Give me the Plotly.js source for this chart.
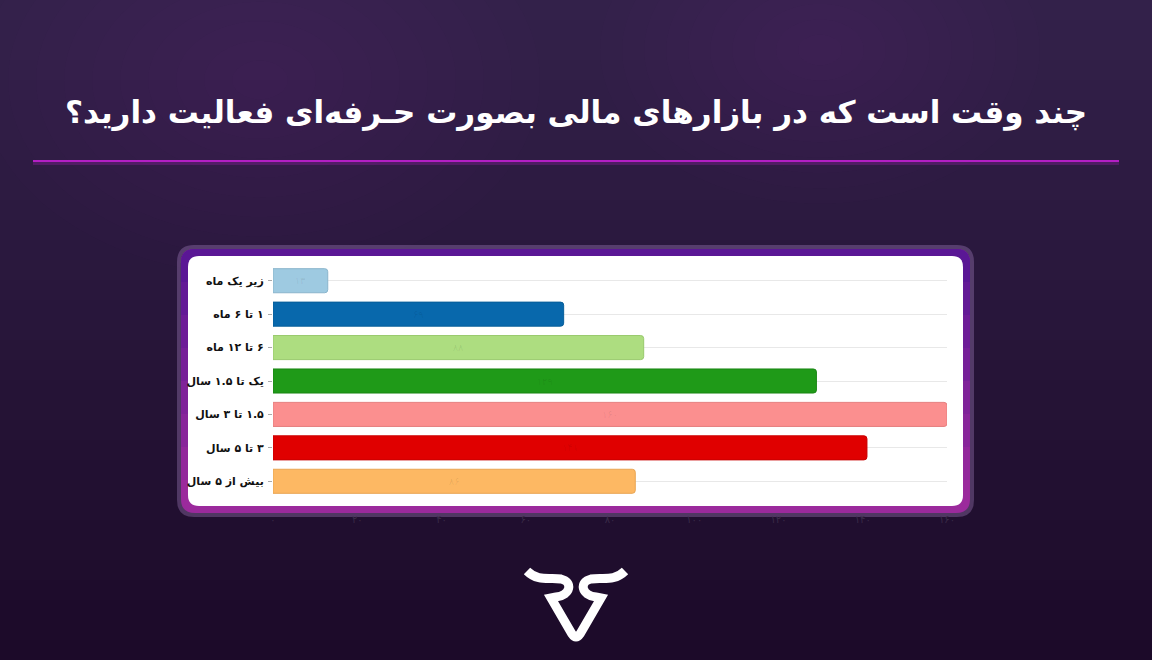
<!DOCTYPE html>
<html>
<head>
<meta charset="utf-8">
<script src="https://cdn.plot.ly/plotly-3.0.1.min.js"></script>
<style>
html,body{margin:0;padding:0;background:#22112f;}
#chart{width:1152px;height:660px;}
</style>
</head>
<body>
<div id="chart"></div>
<script>
// ---- data ----
const categories = ['زیر یک ماه', '۱ تا ۶ ماه', '۶ تا ۱۲ ماه', 'یک تا ۱.۵ سال', '۱.۵ تا ۳ سال', '۳ تا ۵ سال', 'بیش از ۵ سال'];
const values = [13, 69, 88, 129, 160, 141, 86];
const barColors = ['#9ecae1', '#0868ac', '#addd80', '#1f9a18', '#fb8f8f', '#e00000', '#fdb863'];
const barLines = ['#8ab5cc', '#075e99', '#98c96c', '#1a8614', '#e57f7f', '#c90000', '#e9a553'];
const xTickVals = [0, 20, 40, 60, 80, 100, 120, 140, 160];
const titleText = 'چند وقت است که در بازارهای مالی بصورت حـرفه‌ای فعالیت دارید؟';

const faDigits = '۰۱۲۳۴۵۶۷۸۹';
function toFa(n){ return String(n).replace(/[0-9]/g, d => faDigits[+d]); }
const xTickText = xTickVals.map(toFa);
// wrap in a right-to-left embedding so digits stay in place
const rtl = s => '\u202B' + s + '\u202C';
const categoryLabels = categories.map(rtl);

// ---- geometry helpers (pixel -> paper) ----
const W = 1152, H = 660;
const PL = 273, PR = 947, PT = 264, PB = 498;
function px(x){ return (x - PL) / (PR - PL); }
function py(y){ return (PB - y) / (PB - PT); }
function P(x, y){ return px(x).toFixed(5) + ',' + py(y).toFixed(5); }
function roundRect(x0, y0, x1, y1, r){
  return 'M' + P(x0 + r, y0) + ' L' + P(x1 - r, y0) + ' Q' + P(x1, y0) + ' ' + P(x1, y0 + r) +
         ' L' + P(x1, y1 - r) + ' Q' + P(x1, y1) + ' ' + P(x1 - r, y1) +
         ' L' + P(x0 + r, y1) + ' Q' + P(x0, y1) + ' ' + P(x0, y1 - r) +
         ' L' + P(x0, y0 + r) + ' Q' + P(x0, y0) + ' ' + P(x0 + r, y0) + ' Z';
}
function roundTop(x0, y0, x1, y1, r){
  return 'M' + P(x0 + r, y0) + ' L' + P(x1 - r, y0) + ' Q' + P(x1, y0) + ' ' + P(x1, y0 + r) +
         ' L' + P(x1, y1) + ' L' + P(x0, y1) +
         ' L' + P(x0, y0 + r) + ' Q' + P(x0, y0) + ' ' + P(x0 + r, y0) + ' Z';
}
function rectPx(x0, y0, x1, y1, color, layer){
  return {type:'rect', xref:'paper', yref:'paper', x0:px(x0), x1:px(x1), y0:py(y0), y1:py(y1),
          fillcolor:color, line:{width:0}, layer: layer || 'below'};
}
function mix(c1, c2, t){
  const a = c1.match(/\w\w/g).map(h => parseInt(h, 16));
  const b = c2.match(/\w\w/g).map(h => parseInt(h, 16));
  return 'rgb(' + a.map((v, i) => Math.round(v + (b[i] - v) * t)).join(',') + ')';
}

const shapes = [];
// background vertical gradient
const NS = 33;
for (let i = 0; i < NS; i++) {
  const y0 = H * i / NS, y1 = H * (i + 1) / NS + 1;
  shapes.push(rectPx(0, y0, W, y1, mix('#33214a', '#1c0a29', i / (NS - 1))));
}
// soft glows (many faint concentric ellipses)
[[260, 80, 280], [820, 50, 220]].forEach(g => {
  for (let k = 10; k >= 1; k--) {
    const r = g[2] * k / 10;
    shapes.push({type:'circle', xref:'paper', yref:'paper', x0:px(g[0]-r), x1:px(g[0]+r),
                 y0:py(g[1]-r*0.7), y1:py(g[1]+r*0.7), fillcolor:'rgba(150,120,190,0.012)',
                 line:{width:0}, layer:'below'});
  }
});
// title underline
shapes.push({type:'line', xref:'paper', yref:'paper', x0:px(33), x1:px(1119), y0:py(163), y1:py(163),
             line:{color:'rgba(179,31,196,0.25)', width:4}, layer:'below'});
shapes.push({type:'line', xref:'paper', yref:'paper', x0:px(33), x1:px(1119), y0:py(161), y1:py(161),
             line:{color:'#b31fc4', width:2}, layer:'below'});
// card glow
shapes.push({type:'path', xref:'paper', yref:'paper', path: roundRect(177, 245, 974, 517, 17),
             fillcolor:'rgba(190,150,220,0.30)', line:{width:0}, layer:'below'});
// card purple frame, gradient top -> bottom
shapes.push({type:'path', xref:'paper', yref:'paper', path: roundRect(181, 249, 970, 513, 14),
             fillcolor:'#9b2a9c', line:{width:0}, layer:'below'});
const FB = 8;
for (let i = 1; i < FB; i++) {
  const yb = 513 - (513 - 249) * i / FB;
  shapes.push({type:'path', xref:'paper', yref:'paper', path: roundTop(181, 249, 970, yb, 14),
               fillcolor: mix('#9b2a9c', '#5a1795', i / (FB - 1)), line:{width:0}, layer:'below'});
}
// card white inner
shapes.push({type:'path', xref:'paper', yref:'paper', path: roundRect(188, 256, 963, 506, 11),
             fillcolor:'#ffffff', line:{width:0}, layer:'below'});

// logo (white stroked path)
const logoPath = 'M' + P(527, 571) + ' C' + P(538, 582) + ' ' + P(550, 577) + ' ' + P(561, 579) +
  ' C' + P(573, 582) + ' ' + P(571, 595) + ' ' + P(556, 597) +
  ' L' + P(551, 598) + ' L' + P(572, 634) + ' Q' + P(576, 640) + ' ' + P(580, 634) +
  ' L' + P(601, 598) + ' L' + P(596, 597) +
  ' C' + P(581, 595) + ' ' + P(579, 582) + ' ' + P(591, 579) +
  ' C' + P(602, 577) + ' ' + P(614, 582) + ' ' + P(625, 571);
shapes.push({type:'path', xref:'paper', yref:'paper', path: logoPath,
             line:{color:'#ffffff', width:9}, layer:'above'});

const trace = {
  type:'bar', orientation:'h',
  y: categoryLabels, x: values,
  marker:{color: barColors, line:{color: barLines, width:1}, cornerradius:3},
  width: 0.72,
  text: values.map(toFa), textposition:'inside', insidetextanchor:'middle',
  textfont:{family:'DejaVu Sans', size:10, color:'rgba(0,0,0,0.08)'},
  hoverinfo:'none', cliponaxis:false
};

const layout = {
  width: W, height: H,
  margin:{l:PL, r:W-PR, t:PT, b:H-PB, pad:0},
  paper_bgcolor:'#22112f', plot_bgcolor:'rgba(0,0,0,0)',
  showlegend:false,
  xaxis:{range:[0,160], tickvals:xTickVals, ticktext:xTickText, showgrid:false, zeroline:false,
         showline:false, ticks:'', ticklabelstandoff:14,
         tickfont:{family:'DejaVu Sans', size:10, color:'#3a2b48'}, fixedrange:true},
  yaxis:{autorange:'reversed', showgrid:true, gridcolor:'#e8e8e8', gridwidth:1, zeroline:false,
         ticks:'outside', ticklen:4, tickcolor:'#aaaaaa', ticklabelstandoff:2,
         tickfont:{family:'DejaVu Sans', size:11, color:'#111111', weight:'bold'}, fixedrange:true},
  shapes: shapes,
  annotations:[{
    xref:'paper', yref:'paper', x:px(576), y:py(112), xanchor:'center', yanchor:'middle',
    text: titleText, showarrow:false,
    font:{family:'DejaVu Sans', size:31, color:'#ffffff', weight:'bold'}
  }]
};

Plotly.newPlot('chart', [trace], layout, {displayModeBar:false, staticPlot:true});
</script>
</body>
</html>
